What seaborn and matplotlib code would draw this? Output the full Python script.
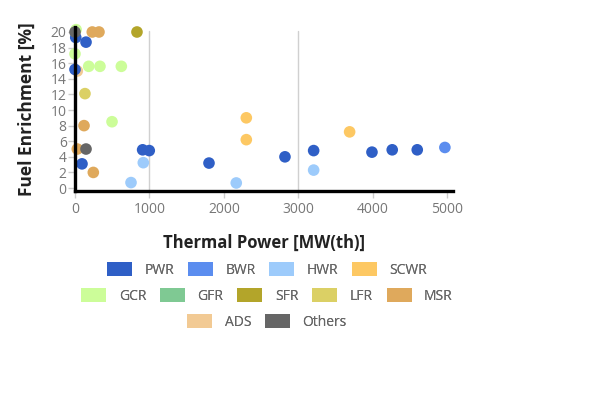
import matplotlib
matplotlib.use("Agg")
import matplotlib.pyplot as plt
import matplotlib.patches as mpatches
import pandas as pd
import seaborn as sns

# reactor type, thermal power [MW(th)], fuel enrichment [%]
types = (["PWR"] * 12 + ["BWR"] + ["HWR"] * 4 + ["SCWR"] * 3 + ["GCR"] * 6
         + ["SFR"] + ["LFR"] + ["MSR"] * 5 + ["ADS"] + ["Others"] * 2)
power = [10, 148, 0, 94, 908, 997, 1799, 2819, 3204, 3987, 4259, 4595,
         4966,
         752, 917, 2165, 3204,
         2300, 2300, 3687,
         15, 0, 184, 335, 622, 497,
         832,
         134,
         232, 322, 121, 246, 31,
         31,
         0, 148]
enrich = [19.3, 18.7, 15.2, 3.1, 4.9, 4.8, 3.2, 4.0, 4.8, 4.6, 4.9, 4.9,
          5.2,
          0.7, 3.25, 0.65, 2.3,
          9.0, 6.2, 7.2,
          20.3, 17.2, 15.6, 15.6, 15.6, 8.5,
          20.0,
          12.1,
          20.0, 20.0, 8.0, 2.0, 5.0,
          15.0,
          20.0, 5.0]

categories = ["PWR", "BWR", "HWR", "SCWR", "GCR", "GFR", "SFR", "LFR",
              "MSR", "ADS", "Others"]
colors = ["#2f5fc6", "#5b8def", "#9dcbfb", "#fdc863", "#ccfd99", "#7fc993",
          "#b3a52a", "#dbd065", "#dfa95c", "#f2ca94", "#666666"]
legend_rows = [["PWR", "BWR", "HWR", "SCWR"],
               ["GCR", "GFR", "SFR", "LFR", "MSR"],
               ["ADS", "Others"]]

df = pd.DataFrame({"type": types, "power": power, "enrich": enrich})
palette = dict(zip(categories, colors))

sns.set_style("white")
plt.rcParams["font.family"] = ["Open Sans", "DejaVu Sans"]

fig = plt.figure(figsize=(6.05, 3.93), dpi=100)
ax = fig.add_axes([75 / 605, 1 - 191 / 393, 378 / 605, 164 / 393])

# drawing order so that overlapping points stack like the reference
order = ["GCR", "ADS", "MSR", "PWR", "BWR", "HWR", "SCWR", "SFR", "LFR", "GFR", "Others"]
df["o"] = df["type"].map({k: i for i, k in enumerate(order)})
df = df.sort_values("o", kind="stable")
sns.scatterplot(data=df, x="power", y="enrich", hue="type", palette=palette,
                s=70, linewidth=0, alpha=1, legend=False, ax=ax, clip_on=False, zorder=3)

ax.set_xlim(0, 5075)
ax.set_ylim(-0.38, 20.64)
ax.set_xticks(range(0, 5001, 1000))
ax.set_yticks(range(0, 21, 2))
for xv in (1000, 3000):
    ax.plot([xv, xv], [-0.38, 20.1], color="#d0d0d0", lw=1, zorder=1)

for s in ("top", "right"):
    ax.spines[s].set_visible(False)
for s in ("left", "bottom"):
    ax.spines[s].set_color("black")
    ax.spines[s].set_linewidth(2.4)
    ax.spines[s].set_zorder(4)

ax.tick_params(axis="both", colors="#cccccc", labelcolor="#777777", labelsize=10,
               length=5, width=1, direction="out", bottom=True, left=True)
ax.tick_params(axis="y", pad=1)
ax.tick_params(axis="x", pad=3)

ax.set_xlabel("Thermal Power [MW(th)]", fontsize=12, fontweight="bold",
              color="#222222", labelpad=12)
ax.set_ylabel("Fuel Enrichment [%]", fontsize=12.5, fontweight="bold",
              color="#222222", labelpad=11)

row_y = [270, 296, 322]
for row, y in zip(legend_rows, row_y):
    handles = [mpatches.Patch(facecolor=palette[c], edgecolor="none", label=c) for c in row]
    leg = fig.legend(handles=handles, loc="center", bbox_to_anchor=(267 / 605, 1 - y / 393),
                     ncol=len(row), frameon=False, fontsize=10, handlelength=1.8,
                     handleheight=1.1, handletextpad=0.9, columnspacing=1.0,
                     borderpad=0, labelcolor="#666666")
    fig.add_artist(leg)

fig.savefig("out.png", dpi=100)
